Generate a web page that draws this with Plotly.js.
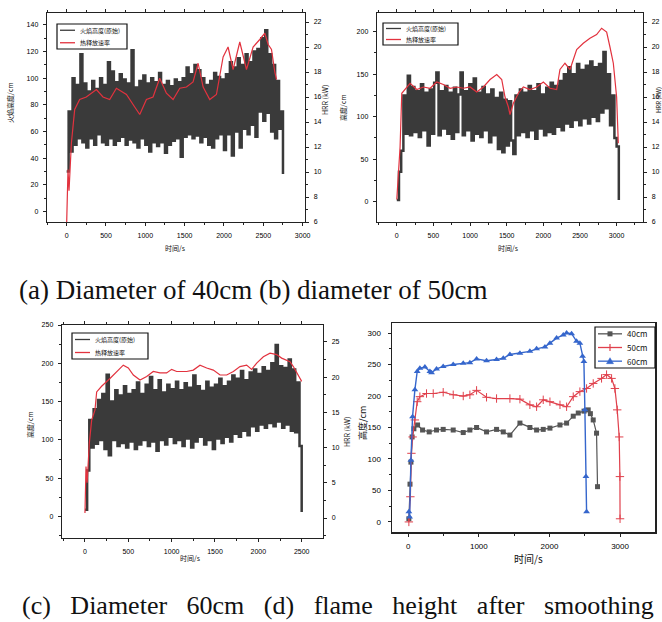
<!DOCTYPE html>
<html>
<head>
<meta charset="utf-8">
<script src="https://cdn.plot.ly/plotly-3.0.1.min.js"></script>
<style>html,body{margin:0;padding:0;background:#fff;}#chart{width:662px;height:622px;}</style>
</head>
<body>
<div id="chart"></div>
<script>
// ---------- data ----------
// (a) diameter 40 cm : raw flame height (left axis) sampled every aStep s, HRR (right axis)
const aStep = 25;
const aBlack = [30,75,45,100,50,95,55,118,52,96,
  48,90,55,98,50,92,58,100,52,95,
  50,112,55,105,50,97,53,103,56,99,
  50,96,54,121,52,93,48,98,55,102,
  50,96,45,100,52,97,49,104,52,95,
  44,98,50,94,53,99,55,97,41,100,
  56,108,58,103,55,110,57,106,52,100,
  56,95,50,98,48,104,55,101,58,99,
  46,103,58,112,42,108,60,115,48,110,
  62,118,58,112,65,120,56,122,75,130,
  68,136,74,118,60,110,55,98,62,75,
  28];
const aRedT = [0,17,30,60,102,165,250,378,462,547,632,760,865,929,1014,1098,1183,1268,1353,1438,1523,1607,1671,1735,1819,1904,1989,2052,2116,2201,2286,2370,2455,2519,2562,2604,2646,2668];
const aRedV = [5.9,10.2,8.5,12.3,15.0,15.8,16.0,16.6,16.0,15.8,16.7,16.2,15.2,14.6,15.8,16.0,17.5,16.3,15.8,16.7,16.8,17.2,18.7,16.8,15.8,16.2,19.2,20.0,18.2,20.4,18.2,20.0,20.6,21.1,20.2,19.8,18.0,17.4];

// (b) diameter 50 cm
const bStep = 30;
const bBlack = [2,35,60,125,80,148,78,135,82,130,
  76,138,84,128,66,132,80,140,152,78,
  130,86,136,80,128,74,134,82,126,152,
  78,130,84,138,72,145,80,128,76,135,
  84,126,70,132,78,122,62,128,58,120,
  66,118,72,56,125,78,132,82,128,76,
  136,84,130,74,138,86,126,78,134,82,
  140,80,136,88,142,84,150,92,158,88,
  150,96,162,90,155,98,160,92,165,100,
  158,95,162,105,176,110,150,90,125,75,
  65,2];
const bRedT = [0,23,45,68,114,182,273,364,455,545,636,727,818,909,1000,1091,1182,1273,1364,1432,1477,1523,1545,1591,1659,1727,1818,1909,2000,2091,2182,2227,2295,2364,2455,2545,2636,2727,2795,2864,2909,2955,3000,3023];
const bRedV = [7.8,10.4,12.0,16.3,16.6,17.1,16.6,16.8,16.7,17.2,17.0,16.7,16.8,16.7,16.8,16.4,16.8,17.4,17.8,17.4,16.0,15.2,14.6,15.5,16.3,16.8,16.6,16.8,17.2,16.7,16.6,18.2,18.7,18.2,19.8,20.3,20.7,21.0,21.5,21.2,20.0,18.7,16.0,12.3];

// (c) diameter 60 cm
const cStep = 25;
const cBlack = [9,60,126,90,140,95,152,100,160,88,
  185,80,150,100,165,92,158,96,170,90,
  160,98,165,88,175,94,160,100,172,92,
  182,98,165,86,178,100,162,94,172,104,
  166,96,176,100,165,92,174,102,168,90,
  184,98,170,104,164,94,176,100,168,88,
  172,102,180,96,170,104,176,98,184,108,
  180,104,190,112,178,106,188,118,192,112,
  186,120,195,116,190,122,200,118,224,124,
  196,116,194,120,205,112,192,110,175,92,
  6];
const cRedT = [0,12,25,50,77,115,135,192,288,365,442,500,558,635,712,788,865,942,1000,1058,1173,1250,1327,1404,1481,1558,1635,1712,1788,1865,1923,1981,2058,2135,2212,2269,2327,2365,2404,2462,2500];
const cRedV = [0.7,7.3,5.0,10.6,13.9,15.3,17.9,18.7,19.8,20.8,21.7,21.3,20.3,19.6,20.1,20.8,20.6,20.6,21.1,20.8,20.8,21.0,21.7,21.3,21.0,20.3,20.3,20.8,21.5,21.7,21.1,22.0,22.9,23.4,23.2,22.7,22.4,22.2,21.5,20.1,19.4];

// (d) smoothed flame height
const d40T = [9,25,38,55,80,132,203,297,400,495,637,779,873,968,1109,1251,1346,1440,1582,1723,1818,1912,2007,2149,2243,2337,2408,2490,2549,2580,2620,2667,2681];
const d40V = [5,60,95,135,148,154,146,143,146,147,146,142,146,150,143,147,143,138,157,150,146,147,149,154,157,168,173,176,178,172,162,141,56];
const d50T = [9,30,45,62,94,127,165,259,354,495,637,779,873,968,1109,1251,1440,1582,1723,1818,1912,2007,2149,2243,2337,2431,2526,2620,2738,2809,2880,2927,2960,2988,2998,3000];
const d50V = [0,40,109,135,162,191,199,204,204,206,202,200,202,209,198,196,196,195,186,183,194,191,186,183,199,207,212,220,228,234,228,212,178,135,72,5];
const d60T = [9,20,38,61,94,127,165,236,307,330,401,495,637,779,873,968,1109,1251,1346,1440,1582,1723,1818,1936,2007,2101,2196,2243,2314,2384,2431,2469,2488,2502,2517,2526];
const d60V = [16,8,98,167,210,239,244,246,239,237,243,247,250,252,253,259,256,258,260,266,268,271,275,278,284,292,297,300,299,287,284,263,255,178,72,16];

const legRaw = '火焰高度(原始)';
const legHRR = '热释放速率';
const seriesNames = ['40cm','50cm','60cm'];
const captions = ['(a) Diameter of 40cm (b) diameter of 50cm','(c) Diameter 60cm (d) flame height after smoothing'];

// ---------- helpers ----------
const W = 662, H = 622;
const px = v => v / W;
const py = v => 1 - v / H;
const times = (arr, step) => arr.map((_, i) => i * step);

const BLACK = '#3a3a3a', RED = '#e2323e';
const C40 = '#555555', C50 = '#e0404c', C60 = '#3566cc';
const tickFont = {family: 'Liberation Sans, Arial, sans-serif', size: 7, color: '#000'};
const cjk = 'Noto Sans CJK SC, sans-serif';

function ax(o) {
  return Object.assign({
    showgrid: false, zeroline: false, showline: true, linecolor: '#222', linewidth: 1.3,
    ticks: 'outside', ticklen: 3, tickwidth: 1, tickcolor: '#222', tickfont: tickFont,
    ticklabelstandoff: 3
  }, o);
}
const mnr = d => ({ticks: 'outside', ticklen: 2, tickwidth: 1, tickcolor: '#222', showgrid: false, dtick: d});

const rawLine = {color: BLACK, width: 2.5, shape: 'hv', simplify: false};
const redLine = {color: RED, width: 1.2};

const traces = [
  {x: times(aBlack, aStep), y: aBlack, xaxis: 'x', yaxis: 'y', type: 'scatter', mode: 'lines', line: rawLine, name: legRaw},
  {x: aRedT, y: aRedV, xaxis: 'x', yaxis: 'y2', type: 'scatter', mode: 'lines', line: redLine, name: legHRR},
  {x: times(bBlack, bStep), y: bBlack, xaxis: 'x2', yaxis: 'y3', type: 'scatter', mode: 'lines', line: rawLine, name: legRaw},
  {x: bRedT, y: bRedV, xaxis: 'x2', yaxis: 'y4', type: 'scatter', mode: 'lines', line: redLine, name: legHRR},
  {x: times(cBlack, cStep), y: cBlack, xaxis: 'x3', yaxis: 'y5', type: 'scatter', mode: 'lines', line: rawLine, name: legRaw},
  {x: cRedT, y: cRedV, xaxis: 'x3', yaxis: 'y6', type: 'scatter', mode: 'lines', line: redLine, name: legHRR},
  {x: d40T, y: d40V, xaxis: 'x4', yaxis: 'y7', type: 'scatter', mode: 'lines+markers', line: {color: C40, width: 1.2}, marker: {symbol: 'square', size: 5, color: C40}, name: seriesNames[0]},
  {x: d50T, y: d50V, xaxis: 'x4', yaxis: 'y7', type: 'scatter', mode: 'lines+markers', line: {color: C50, width: 1.2}, marker: {symbol: 'cross-thin-open', size: 6, color: C50, line: {color: C50, width: 1}}, name: seriesNames[1]},
  {x: d60T, y: d60V, xaxis: 'x4', yaxis: 'y7', type: 'scatter', mode: 'lines+markers', line: {color: C60, width: 1.4}, marker: {symbol: 'triangle-up', size: 6, color: C60}, name: seriesNames[2]}
];

// ---------- hand-placed legends (compact, like the original) ----------
const shapes = [], annotations = [];
function legendBox(x0, y0, x1, y1, entries, fs, lineLen) {
  shapes.push({type: 'rect', xref: 'paper', yref: 'paper', x0: px(x0), x1: px(x1), y0: py(y1), y1: py(y0),
    line: {color: '#111', width: 1.2}, fillcolor: '#fff', layer: 'above'});
  const n = entries.length, rh = (y1 - y0) / n;
  entries.forEach((e, i) => {
    const yc = y0 + (i + 0.5) * rh, lx0 = x0 + 3, lx1 = lx0 + lineLen, mx = (lx0 + lx1) / 2;
    shapes.push({type: 'line', xref: 'paper', yref: 'paper', x0: px(lx0), x1: px(lx1), y0: py(yc), y1: py(yc),
      line: {color: e.color, width: 1.3}, layer: 'above'});
    const P = (a, b) => px(a) + ',' + py(b);
    if (e.symbol === 'square') {
      shapes.push({type: 'rect', xref: 'paper', yref: 'paper', x0: px(mx - 2.5), x1: px(mx + 2.5), y0: py(yc + 2.5), y1: py(yc - 2.5),
        line: {color: e.color, width: 0}, fillcolor: e.color, layer: 'above'});
    } else if (e.symbol === 'cross') {
      shapes.push({type: 'path', xref: 'paper', yref: 'paper', path: 'M' + P(mx, yc - 3.5) + 'L' + P(mx, yc + 3.5),
        line: {color: e.color, width: 1.2}, layer: 'above'});
    } else if (e.symbol === 'triangle') {
      shapes.push({type: 'path', xref: 'paper', yref: 'paper', path: 'M' + P(mx - 3.5, yc + 2.5) + 'L' + P(mx + 3.5, yc + 2.5) + 'L' + P(mx, yc - 3.5) + 'Z',
        line: {color: e.color, width: 0.5}, fillcolor: e.color, layer: 'above'});
    }
    annotations.push({text: e.name, xref: 'paper', yref: 'paper', x: px(lx1 + 3), y: py(yc), xanchor: 'left', yanchor: 'middle',
      showarrow: false, font: {family: cjk, size: fs, color: '#111'}});
  });
}
legendBox(57, 24, 127, 49, [{name: legRaw, color: BLACK}, {name: legHRR, color: RED}], 6, 15);
legendBox(383, 23, 458, 45, [{name: legRaw, color: BLACK}, {name: legHRR, color: RED}], 6, 15);
legendBox(72, 333, 148, 359, [{name: legRaw, color: BLACK}, {name: legHRR, color: RED}], 6, 15);
legendBox(595, 327, 655, 368, [{name: seriesNames[0], color: C40, symbol: 'square'}, {name: seriesNames[1], color: C50, symbol: 'cross'}, {name: seriesNames[2], color: C60, symbol: 'triangle'}], 8, 24);

// ---------- axis titles and captions ----------
function note(text, x, y, o) {
  annotations.push(Object.assign({text: text, x: px(x), y: py(y), xref: 'paper', yref: 'paper', showarrow: false,
    xanchor: 'center', yanchor: 'middle', font: {family: cjk, size: 7, color: '#111'}}, o || {}));
}
note('火焰高度/cm', 10, 103, {textangle: -90});
note('时间/s', 175, 248);
note('HRR (kW)', 325, 100, {textangle: -90});
note('高度/cm', 343, 108, {textangle: -90});
note('时间/s', 508, 248);
note('HRR (kW)', 659, 100, {textangle: -90, font: {family: cjk, size: 6, color: '#111'}});
note('高度/cm', 30, 425, {textangle: -90});
note('时间/s', 190, 558);
note('HRR (kW)', 347, 432, {textangle: -90});
note('高度/cm', 362, 423, {textangle: -90, font: {family: cjk, size: 9, color: '#111'}});
note('时间/s', 528, 558, {font: {family: cjk, size: 10, color: '#111'}});
note(captions[0], 17, 290, {xanchor: 'left', font: {family: 'Liberation Serif, serif', size: 27, color: '#111'}});
// second caption is a justified line in the source: wider word gaps
note(captions[1].split(' ').join(' \u00A0\u00A0'), 20, 605, {xanchor: 'left', font: {family: 'Liberation Serif, serif', size: 26, color: '#111'}});

const layout = {
  width: W, height: H, margin: {l: 0, r: 0, t: 0, b: 0},
  paper_bgcolor: '#fff', plot_bgcolor: '#fff', showlegend: false,
  xaxis: ax({domain: [px(47), px(305)], anchor: 'y', range: [-250, 3030], dtick: 500, mirror: 'ticks', minor: mnr(250)}),
  yaxis: ax({domain: [py(222), py(13)], anchor: 'x', range: [-8, 149], dtick: 20, minor: mnr(10)}),
  yaxis2: ax({overlaying: 'y', side: 'right', anchor: 'x', range: [6, 22.72], dtick: 2, minor: mnr(1)}),
  xaxis2: ax({domain: [px(377), px(643)], anchor: 'y3', range: [-270, 3360], dtick: 500, mirror: 'ticks', minor: mnr(250)}),
  yaxis3: ax({domain: [py(222), py(13)], anchor: 'x2', range: [-24, 222], dtick: 50, minor: mnr(25)}),
  yaxis4: ax({overlaying: 'y3', side: 'right', anchor: 'x2', range: [6, 22.72], dtick: 2, minor: mnr(1)}),
  xaxis3: ax({domain: [px(62), px(323)], anchor: 'y5', range: [-265, 2746], dtick: 500, mirror: 'ticks', minor: mnr(250)}),
  yaxis5: ax({domain: [py(538), py(325)], anchor: 'x3', range: [-28, 250], dtick: 50, minor: mnr(25)}),
  yaxis6: ax({overlaying: 'y5', side: 'right', anchor: 'x3', range: [-2.84, 27.4], dtick: 5, minor: mnr(2.5)}),
  xaxis4: ax({domain: [px(392), px(655)], anchor: 'y7', range: [-230, 3495], dtick: 1000, mirror: true, linewidth: 1.5, tickfont: Object.assign({}, tickFont, {size: 8}), minor: mnr(500)}),
  yaxis7: ax({domain: [py(532), py(323)], anchor: 'x4', range: [-16, 316], dtick: 50, mirror: true, linewidth: 1.5, ticklabelstandoff: 5, tickfont: Object.assign({}, tickFont, {size: 8}), minor: mnr(25)}),
  shapes: shapes,
  annotations: annotations
};

Plotly.newPlot('chart', traces, layout, {displayModeBar: false, staticPlot: true});
</script>
</body>
</html>
